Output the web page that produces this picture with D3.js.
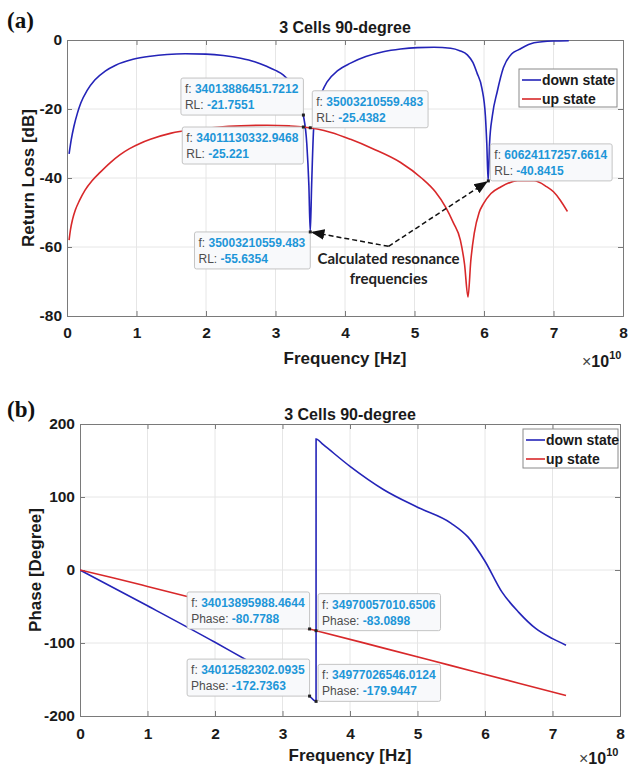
<!DOCTYPE html>
<html><head><meta charset="utf-8">
<script src="https://cdn.jsdelivr.net/npm/d3@7"></script>
<style>body{margin:0;background:#fff}svg{display:block}</style>
</head><body>
<svg id="c" width="630" height="767"></svg>
<script>
// ---------------- DATA (frequency in units of 1e10 Hz) ----------------
const seriesNames = ["down state", "up state"];

// (a) Return loss [dB]
const rlDown = [[0.03,-33],[0.06,-29],[0.1,-25],[0.15,-21.2],[0.2,-18.2],[0.29,-14.6],[0.4,-11.6],[0.55,-9],[0.7,-7.3],[0.95,-5.6],[1.2,-4.7],[1.44,-4.2],[1.7,-4],[2.0,-4.1],[2.25,-4.5],[2.5,-5.3],[2.7,-6.3],[2.88,-7.7],[3.0,-8.8],[3.11,-10.1],[3.2,-12],[3.3,-15.5],[3.36,-18.5],[3.4,-21.75],[3.45,-30],[3.48,-42],[3.5,-55.6],[3.52,-42],[3.55,-25.4],[3.6,-19],[3.67,-15],[3.74,-12.2],[3.9,-8.8],[4.08,-6.7],[4.3,-4.8],[4.55,-3.4],[4.8,-2.6],[5.04,-2.2],[5.28,-2.1],[5.52,-2.4],[5.65,-3.1],[5.76,-4.3],[5.84,-6.5],[5.9,-9.6],[5.97,-14],[6.02,-22],[6.04,-30],[6.06,-40.8],[6.08,-30],[6.12,-22],[6.19,-15],[6.28,-8],[6.4,-4],[6.5,-2.8],[6.72,-0.8],[7.0,-0.3],[7.22,-0.2]];
const rlUp = [[0.03,-58],[0.05,-55],[0.08,-52],[0.12,-49.3],[0.18,-46.5],[0.26,-43.5],[0.36,-40.8],[0.48,-38.3],[0.62,-35.6],[0.76,-33.3],[0.9,-31.5],[1.05,-30],[1.2,-28.8],[1.5,-27],[1.8,-26],[2.16,-25.3],[2.5,-24.9],[2.88,-24.7],[3.2,-24.9],[3.4,-25.2],[3.6,-25.8],[3.8,-26.8],[4.08,-28.8],[4.4,-31.5],[4.8,-35.5],[5.1,-40],[5.3,-44],[5.45,-48.5],[5.56,-53],[5.66,-58],[5.72,-65],[5.77,-74.5],[5.81,-64],[5.86,-56],[5.93,-50],[5.99,-47.5],[6.1,-44.5],[6.24,-42.6],[6.48,-40.8],[6.72,-40.8],[6.9,-42.5],[7.0,-44],[7.1,-46.5],[7.2,-49.7]];

// (b) Phase [Degree]
const phDown = [[0,0],[1,-49],[2,-99],[2.5,-125],[3,-150],[3.4,-172.7],[3.497,-179.9],[3.4975,179.5],[3.6,172],[4,142],[4.5,110],[5,86],[5.5,64],[5.75,45],[6,12],[6.25,-30],[6.5,-58],[6.75,-80],[7,-94],[7.2,-103]];
const phUp = [[0,0],[0.5,-11],[1,-22.5],[2,-46],[3,-70.5],[3.4,-80.78],[3.5,-83.09],[4.5,-107],[5.5,-131],[6.5,-155],[7.2,-172]];

// tick values
const xTicks = [0,1,2,3,4,5,6,7,8];
const rlTicks = [-80,-60,-40,-20,0];
const phTicks = [-200,-100,0,100,200];

// data tips: [f, value, valueLabel, fText, valText]
const rlTips = [
  [3.40138864517212, -21.7551, "RL", "34013886451.7212", "-21.7551"],
  [3.5003210559483, -25.4382, "RL", "35003210559.483", "-25.4382"],
  [3.40111303329468, -25.221, "RL", "34011130332.9468", "-25.221"],
  [3.5003210559483, -55.6354, "RL", "35003210559.483", "-55.6354"],
  [6.06241172576614, -40.8415, "RL", "60624117257.6614", "-40.8415"]
];
const phTips = [
  [3.40138959884644, -80.7788, "Phase", "34013895988.4644", "-80.7788"],
  [3.49700570106506, -83.0898, "Phase", "34970057010.6506", "-83.0898"],
  [3.40125823020935, -172.7363, "Phase", "34012582302.0935", "-172.7363"],
  [3.49770265460124, -179.9447, "Phase", "34977026546.0124", "-179.9447"]
];
// callout (data coords): vertex of the two arrows
const calloutVertex = [4.627, -59.8];
const calloutText = ["Calculated resonance", "frequencies"];

// ---------------- LAYOUT / STYLE ----------------
const rlTipCorner = ["br","bl","tr","tr","bl"];
const phTipCorner = ["br","bl","br","bl"];
const BLUE = "#2424b8", RED = "#d8282a";
const AXC = "#7a7a7a", GRID = "#e6e6e6", TXT = "#1a1a1a";
const FONT = "'Liberation Sans', Arial, Helvetica, sans-serif";

const svg = d3.select("#c");
svg.append("rect").attr("width",630).attr("height",767).attr("fill","#fff");

function panel(opt){
  const {x, y, xTicksV, yTicksV, title, ylabel, yLabelX, titleY, xlabY, tickPad, series, tips, corners, legend} = opt;
  const g = svg.append("g");
  const [x0,x1] = x.range(), [y0,y1] = y.range(); // y0 bottom, y1 top
  // grid
  g.selectAll(".vg").data(xTicksV.slice(1,-1)).enter().append("line")
    .attr("x1",d=>x(d)).attr("x2",d=>x(d)).attr("y1",y1).attr("y2",y0)
    .attr("stroke",GRID).attr("stroke-width",1);
  g.selectAll(".hg").data(yTicksV.slice(1,-1)).enter().append("line")
    .attr("x1",x0).attr("x2",x1).attr("y1",d=>y(d)).attr("y2",d=>y(d))
    .attr("stroke",GRID).attr("stroke-width",1);
  // axes
  const fmt = d => String(d);
  const ax = g.append("g").attr("transform",`translate(0,${y0})`)
    .call(d3.axisBottom(x).tickValues(xTicksV).tickSize(-5).tickPadding(tickPad).tickFormat(fmt));
  const ay = g.append("g").attr("transform",`translate(${x0},0)`)
    .call(d3.axisLeft(y).tickValues(yTicksV).tickSize(-5).tickPadding(5).tickFormat(fmt));
  const at = g.append("g").attr("transform",`translate(0,${y1})`)
    .call(d3.axisTop(x).tickValues(xTicksV).tickSize(-5).tickFormat(""));
  const ar = g.append("g").attr("transform",`translate(${x1},0)`)
    .call(d3.axisRight(y).tickValues(yTicksV).tickSize(-5).tickFormat(""));
  [ax,ay,at,ar].forEach(a=>{
    a.selectAll("path").attr("stroke",AXC).attr("stroke-width",1);
    a.selectAll("line").attr("stroke",AXC).attr("stroke-width",1);
    a.selectAll("text").attr("font-family",FONT).attr("font-weight","bold")
      .attr("font-size",15.5).attr("fill",TXT);
  });
  // lines
  const clipId = "clip"+Math.round(y1);
  g.append("clipPath").attr("id",clipId).append("rect")
    .attr("x",x0).attr("y",y1-1).attr("width",x1-x0).attr("height",y0-y1+2);
  const line = d3.line().x(d=>x(d[0])).y(d=>y(d[1])).curve(d3.curveMonotoneX);
  series.forEach((s,i)=>{
    g.append("path").datum(s.data).attr("d",line).attr("fill","none")
      .attr("stroke",s.color).attr("stroke-width",1.6).attr("clip-path",`url(#${clipId})`);
  });
  // title & labels
  g.append("text").attr("x",(x0+x1)/2).attr("y",titleY).attr("text-anchor","middle")
    .attr("font-family",FONT).attr("font-weight","bold").attr("font-size",16).attr("fill",TXT).text(title);
  g.append("text").attr("x",(x0+x1)/2).attr("y",xlabY).attr("text-anchor","middle")
    .attr("font-family",FONT).attr("font-weight","bold").attr("font-size",17).attr("fill",TXT).text("Frequency [Hz]");
  g.append("text").attr("transform",`translate(${yLabelX},${(y0+y1)/2}) rotate(-90)`).attr("text-anchor","middle")
    .attr("font-family",FONT).attr("font-weight","bold").attr("font-size",17).attr("fill",TXT).text(ylabel);
  const ex = g.append("text").attr("x",x1-41).attr("y",xlabY+3).attr("font-family",FONT).attr("fill",TXT);
  ex.append("tspan").attr("font-size",16).attr("fill","#444").text("\u00d7");
  ex.append("tspan").attr("font-size",16).attr("font-weight","bold").text("10");
  ex.append("tspan").attr("font-size",11).attr("font-weight","bold").attr("dy",-8).text("10");
  // legend
  const lg = g.append("g");
  lg.append("rect").attr("x",legend.x).attr("y",legend.y).attr("width",legend.w).attr("height",legend.h)
    .attr("fill","#fff").attr("stroke","#8a8a8a").attr("stroke-width",1);
  series.forEach((s,i)=>{
    const yy = legend.y + 11 + i*19;
    lg.append("line").attr("x1",legend.x+3).attr("x2",legend.x+22).attr("y1",yy).attr("y2",yy)
      .attr("stroke",s.color).attr("stroke-width",1.6);
    lg.append("text").attr("x",legend.x+23).attr("y",yy+5).attr("font-family",FONT)
      .attr("font-weight","bold").attr("font-size",14).attr("fill",TXT).text(s.name);
  });
  // tips
  tips.forEach((t,i)=>{
    const px = x(t[0]), py = y(t[1]);
    const tg = g.append("g");
    const rect = tg.append("rect");
    const t1 = tg.append("text").attr("font-family",FONT).attr("font-size",12);
    t1.append("tspan").attr("fill","#4d4d4d").text("f: ");
    t1.append("tspan").attr("fill","#1d96d8").attr("font-weight","bold").text(t[3]);
    const t2 = tg.append("text").attr("font-family",FONT).attr("font-size",12);
    t2.append("tspan").attr("fill","#4d4d4d").text(t[2]+": ");
    t2.append("tspan").attr("fill","#1d96d8").attr("font-weight","bold").text(t[4]);
    const w = Math.max(t1.node().getComputedTextLength(), t2.node().getComputedTextLength()) + 9;
    const h = 37;
    const c = corners[i];
    const bx = c[1]==="r" ? px - w : px + 2;
    const by = c[0]==="b" ? py - h : py;
    rect.attr("x",bx).attr("y",by).attr("width",w).attr("height",h).attr("rx",2)
      .attr("fill","#f8f9fb").attr("stroke","#c4c4c4").attr("stroke-width",1);
    t1.attr("x",bx+4).attr("y",by+15);
    t2.attr("x",bx+4).attr("y",by+31);
    g.append("rect").attr("x",px-1.5).attr("y",py-1.5).attr("width",3).attr("height",3).attr("fill","#222");
  });
  return g;
}

// ---- panel (a) ----
const xa = d3.scaleLinear([0,8],[67,623]);
const ya = d3.scaleLinear([-80,0],[316,40]);
panel({x:xa, y:ya, xTicksV:xTicks, yTicksV:rlTicks, title:"3 Cells 90-degree",
  ylabel:"Return Loss [dB]", yLabelX:34, titleY:33, xlabY:364, tickPad:11,
  series:[{name:seriesNames[0],data:rlDown,color:BLUE},{name:seriesNames[1],data:rlUp,color:RED}],
  tips:rlTips, corners:rlTipCorner, legend:{x:519,y:69,w:98,h:38}});

// callout arrows
svg.append("defs").append("marker").attr("id","ah").attr("viewBox","0 0 10 10").attr("refX",9).attr("refY",5)
  .attr("markerWidth",9).attr("markerHeight",9).attr("orient","auto-start-reverse")
  .append("path").attr("d","M0,1 L10,5 L0,9 z").attr("fill","#111");
const vx = xa(calloutVertex[0]), vy = ya(calloutVertex[1]);
[[rlTips[3][0], rlTips[3][1]], [rlTips[4][0], rlTips[4][1]]].forEach(p=>{
  const tx = xa(p[0]), ty = ya(p[1]);
  const dx = tx - vx, dy = ty - vy, L = Math.hypot(dx,dy);
  svg.append("line").attr("x1",vx).attr("y1",vy).attr("x2",tx - dx/L*2).attr("y2",ty - dy/L*2)
    .attr("stroke","#111").attr("stroke-width",1.5).attr("stroke-dasharray","5,3").attr("marker-end","url(#ah)");
});
calloutText.forEach((s,i)=>{
  svg.append("text").attr("x",vx).attr("y",vy+18+i*20).attr("text-anchor","middle")
    .attr("font-family","Lato, 'Open Sans', sans-serif").attr("font-weight","bold").attr("font-size",15)
    .attr("fill","#222").text(s);
});

// ---- panel (b) ----
const xb = d3.scaleLinear([0,8],[80,620]);
const yb = d3.scaleLinear([-200,200],[716,424]);
panel({x:xb, y:yb, xTicksV:xTicks, yTicksV:phTicks, title:"3 Cells 90-degree",
  ylabel:"Phase [Degree]", yLabelX:41, titleY:420, xlabY:761, tickPad:12,
  series:[{name:seriesNames[0],data:phDown,color:BLUE},{name:seriesNames[1],data:phUp,color:RED}],
  tips:phTips, corners:phTipCorner, legend:{x:523,y:429,w:95,h:39}});

// panel letters
[["(a)",28],["(b)",417]].forEach(([s,yy])=>{
  svg.append("text").attr("x",7).attr("y",yy).attr("font-family","'Liberation Serif','Times New Roman',serif")
    .attr("font-weight","bold").attr("font-size",23).attr("fill","#111").text(s);
});
</script>
</body></html>
